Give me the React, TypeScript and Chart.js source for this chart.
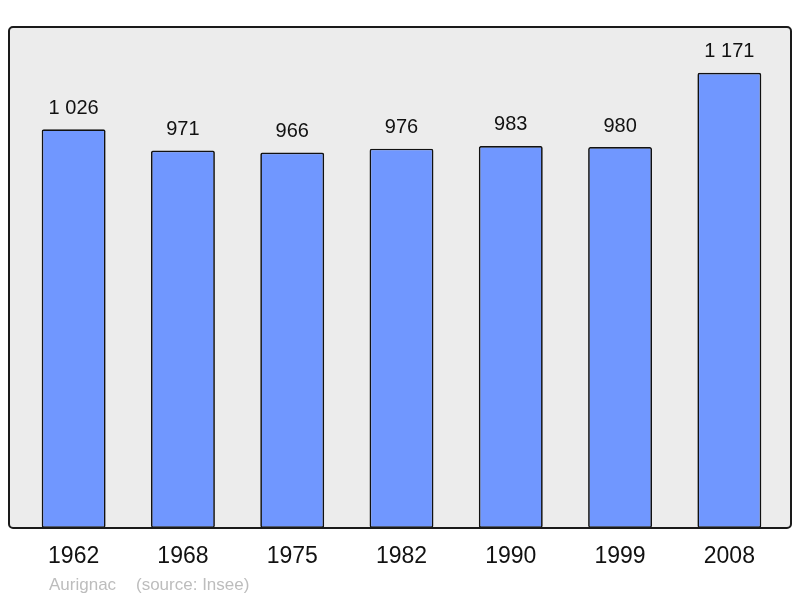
import React, { useEffect, useRef } from "react";
import { Chart, registerables } from "chart.js";

Chart.register(...registerables);

const categories = ["1962", "1968", "1975", "1982", "1990", "1999", "2008"];
const population = [1026, 971, 966, 976, 983, 980, 1171];
const valueLabels = ["1 026", "971", "966", "976", "983", "980", "1 171"];
const commune = "Aurignac";
const source = "(source: Insee)";

const framePlugin = {
  id: "frame",
  beforeDatasetsDraw(chart: any) {
    const { ctx, chartArea } = chart;
    const l = 9;
    const r = 791;
    const t = chartArea.top;
    const b = chartArea.bottom;
    ctx.save();
    ctx.beginPath();
    ctx.roundRect(l, t, r - l, b - t, 4);
    ctx.fillStyle = "#ececec";
    ctx.fill();
    ctx.restore();
  },
  afterDatasetsDraw(chart: any) {
    const { ctx, chartArea } = chart;
    const l = 9;
    const r = 791;
    const t = chartArea.top;
    const b = chartArea.bottom;
    ctx.save();
    ctx.beginPath();
    ctx.roundRect(l, t, r - l, b - t, 4);
    ctx.lineWidth = 2;
    ctx.strokeStyle = "#1a1a1a";
    ctx.stroke();

    const meta = chart.getDatasetMeta(0);
    ctx.fillStyle = "#111";
    ctx.textAlign = "center";
    ctx.textBaseline = "middle";
    ctx.font = '20px "Liberation Sans", Arial, sans-serif';
    meta.data.forEach((bar: any, i: number) => {
      ctx.fillText(valueLabels[i], bar.x, bar.y - 21);
    });
    const xs = chart.scales.x;
    ctx.font = '23px "Liberation Sans", Arial, sans-serif';
    categories.forEach((c, i) => {
      ctx.fillText(c, xs.getPixelForValue(i), b + 29);
    });
    ctx.font = '17px "Liberation Sans", Arial, sans-serif';
    ctx.fillStyle = "#bdbdbd";
    ctx.textAlign = "left";
    ctx.fillText(commune, 49, b + 57);
    ctx.fillText(source, 136, b + 57);
    ctx.restore();
  },
};

export default function App() {
  const ref = useRef<HTMLCanvasElement | null>(null);
  useEffect(() => {
    document.body.style.margin = "0";
    const chart = new Chart(ref.current as HTMLCanvasElement, {
      type: "bar",
      data: {
        labels: categories,
        datasets: [
          {
            data: population,
            backgroundColor: "#7097ff",
            borderColor: "#111",
            borderWidth: 1.7,
            borderRadius: 2,
            borderSkipped: false,
            barPercentage: 0.585,
            categoryPercentage: 1,
          },
        ],
      },
      options: {
        animation: false,
        responsive: false,
        maintainAspectRatio: false,
        layout: { padding: { left: 19, right: 16, top: 27, bottom: 70 } },
        plugins: { legend: { display: false }, tooltip: { enabled: false } },
        scales: {
          x: { display: false },
          y: { display: false, min: 0, max: 1289 },
        },
      },
      plugins: [framePlugin],
    });
    return () => chart.destroy();
  }, []);
  return (
    <div style={{ position: "absolute", left: 0, top: 0, width: 800, height: 598 }}>
      <canvas ref={ref} width={800} height={598} style={{ width: 800, height: 598 }} />
    </div>
  );
}
